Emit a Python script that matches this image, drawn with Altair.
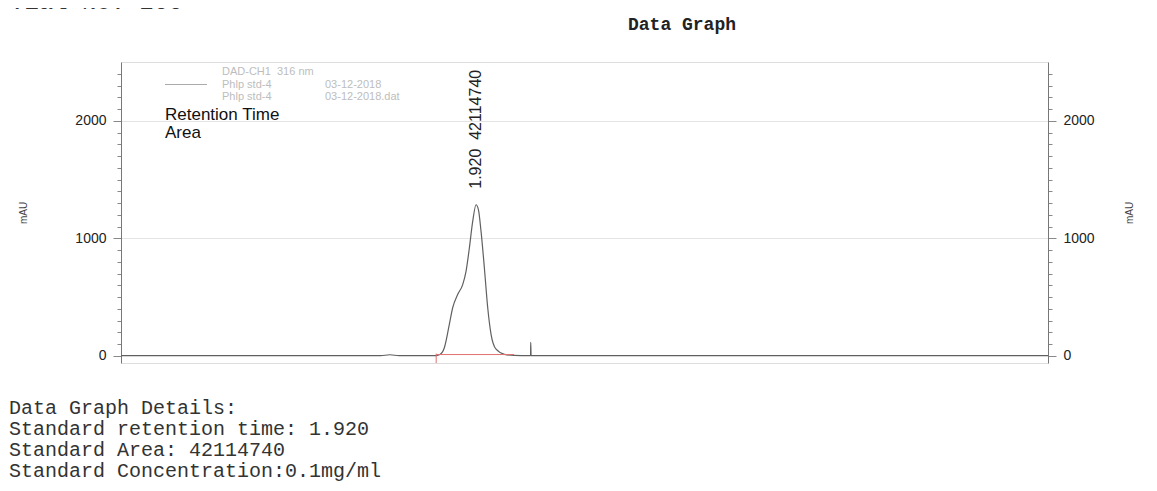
import altair as alt
import pandas as pd

# ---- chromatogram signal (minutes, mAU) ----
chrom_t = [0.00, 1.40, 1.45, 1.50, 1.70, 1.72, 1.744, 1.771, 1.789, 1.816, 1.843, 1.861,
           1.879, 1.897, 1.915, 1.928, 1.942, 1.960, 1.978, 1.996, 2.023, 2.068, 2.12,
           2.20, 2.209, 2.210, 2.212, 2.25, 5.00]
chrom_v = [2, 2, 10, 2, 3, 12, 70, 269, 410, 523, 607, 720,
           918, 1144, 1286, 1243, 1059, 748, 410, 184, 57, 14, 5,
           3, 3, 116, 3, 2, 2]

# integration baseline (red) and its start marker
base_t = [1.70, 2.12]
base_v = [12, 12]
start_t = [1.70]
start_lo = [-60]
start_hi = [20]

# peak annotation
NB = "\u00a0"
peak_t = [1.915]
peak_v = [1286]
peak_label = ["1.920" + NB * 2 + "42114740"]

# axis ticks
y_ticks = list(range(0, 2500, 100))
x_ticks = [round(i * 0.1, 1) for i in range(51)]

legend_lines = ["DAD-CH1" + NB * 2 + "316 nm", "Phlp std-4", "Phlp std-4"]
legend_dates = ["03-12-2018", "03-12-2018.dat"]
detail_lines = ["Data Graph Details:",
                "Standard retention time: 1.920",
                "Standard Area: 42114740",
                "Standard Concentration:0.1mg/ml"]

SANS = "Liberation Sans"
MONO = "Liberation Mono"

df = pd.DataFrame({"t": chrom_t, "v": chrom_v})
xscale = alt.Scale(domain=[0, 5], nice=False, zero=False)
yscale = alt.Scale(domain=[-60, 2500], nice=False, zero=False)

major_y = "datum.value % 1000 === 0"
left_axis = alt.Axis(
    orient="left", values=y_ticks, format="d",
    labelExpr=f"{major_y} ? datum.label : ''",
    tickSize={"condition": {"test": major_y, "value": 8}, "value": 4},
    grid=True, gridColor="#e4e4e4",
    gridOpacity={"condition": {"test": major_y + " && datum.value > 0", "value": 1}, "value": 0},
    domainColor="#777", tickColor="#888",
    labelFont=SANS, labelFontSize=14, labelColor="#222", labelPadding=7,
    labelOverlap=False,
    title="mAU", titleFont=SANS, titleFontSize=10, titleFontWeight="normal",
    titleColor="#444", titlePadding=46,
)
right_axis = alt.Axis(
    orient="right", values=y_ticks, format="d",
    labelExpr=f"{major_y} ? datum.label : ''",
    tickSize={"condition": {"test": major_y, "value": 8}, "value": 4},
    grid=False,
    domainColor="#777", tickColor="#888",
    labelFont=SANS, labelFontSize=14, labelColor="#222", labelPadding=7,
    labelOverlap=False,
    title="mAU", titleFont=SANS, titleFontSize=10, titleFontWeight="normal",
    titleColor="#444", titlePadding=40, titleAngle=270,
)
major_x = "datum.value % 1 === 0"
x_axis = alt.Axis(
    values=x_ticks,
    labelExpr=f"{major_x} ? format(datum.value, 'd') : ''",
    tickSize={"condition": {"test": major_x, "value": 6}, "value": 3},
    grid=True, gridColor="#e4e4e4",
    gridOpacity={"condition": {"test": major_x + " && datum.value > 0 && datum.value < 5",
                               "value": 1}, "value": 0},
    domainColor="#777", tickColor="#888",
    labelFont=SANS, labelFontSize=14, labelColor="#222", labelPadding=4,
    labelFlush=False, labelOverlap=False,
    title="Minutes", titleFont=SANS, titleFontSize=10, titleFontWeight="normal",
    titleColor="#444", titlePadding=6,
)

signal = alt.Chart(df).mark_line(color="#606060", strokeWidth=1.2, interpolate="monotone").encode(
    x=alt.X("t:Q", scale=xscale, axis=x_axis),
    y=alt.Y("v:Q", scale=yscale, axis=left_axis),
)
right = alt.Chart(df).mark_line(opacity=0).encode(
    x=alt.X("t:Q", scale=xscale, axis=None),
    y=alt.Y("v:Q", scale=yscale, axis=right_axis),
)
baseline = alt.Chart(pd.DataFrame({"t": base_t, "v": base_v})).mark_line(
    color="#e07070", strokeWidth=1).encode(
    x=alt.X("t:Q", scale=xscale, axis=None),
    y=alt.Y("v:Q", scale=yscale, axis=None),
)
start_mark = alt.Chart(pd.DataFrame({"t": start_t, "lo": start_lo, "hi": start_hi})).mark_rule(
    color="#e07070", strokeWidth=1).encode(
    x=alt.X("t:Q", scale=xscale, axis=None),
    y=alt.Y("lo:Q", scale=yscale, axis=None),
    y2="hi:Q",
)
peak_text = alt.Chart(pd.DataFrame({"t": peak_t, "v": peak_v, "s": peak_label})).mark_text(
    angle=270, align="left", baseline="middle", dx=16, font=SANS, fontSize=16, color="#222"
).encode(
    x=alt.X("t:Q", scale=xscale, axis=None),
    y=alt.Y("v:Q", scale=yscale, axis=None),
    text="s:N",
)


def label(text, x, y, **kw):
    return alt.Chart(pd.DataFrame({"s": [text]})).mark_text(**kw).encode(
        x=alt.value(x), y=alt.value(y), text="s:N")


grey = dict(align="left", baseline="middle", font=SANS, fontSize=11, color="#bdbdbd")
mono_detail = dict(align="left", baseline="alphabetic", font=MONO, fontSize=20, color="#333")
annots = [
    label(legend_lines[0], 101, 10, **grey),
    label(legend_lines[1], 101, 22.5, **grey),
    label(legend_lines[2], 101, 35, **grey),
    label(legend_dates[0], 204, 22.5, **grey),
    label(legend_dates[1], 204, 35, **grey),
    label("Retention Time", 44, 53, align="left", baseline="middle", font=SANS,
          fontSize=17, color="#111"),
    label("Area", 44, 71, align="left", baseline="middle", font=SANS,
          fontSize=17, color="#111"),
    label("Data Graph", 561, -37, align="center", baseline="middle", font=MONO,
          fontSize=18, fontWeight="bold", color="#222"),
    label("Vial No: 200", -111, -53, align="left", baseline="alphabetic", font=MONO,
          fontSize=24, color="#333"),
]
for i, line in enumerate(detail_lines):
    annots.append(label(line, -112, 352 + i * 21, **mono_detail))

legend_rule = alt.Chart(pd.DataFrame({"s": ["line"]})).mark_rule(
    color="#aaaaaa", strokeWidth=1).encode(
    x=alt.value(44), x2=alt.value(86), y=alt.value(22.5))

chart = alt.layer(
    signal, right, baseline, start_mark, peak_text, legend_rule, *annots
).resolve_axis(y="independent").properties(
    width=927, height=301,
    autosize=alt.AutoSizeParams(type="none"),
    padding={"left": 113, "top": 54, "right": 101, "bottom": 121},
).configure_view(stroke="#999", strokeWidth=1).configure(background="white")

chart.save("out.html", embed_options={"renderer": "svg", "actions": False})
